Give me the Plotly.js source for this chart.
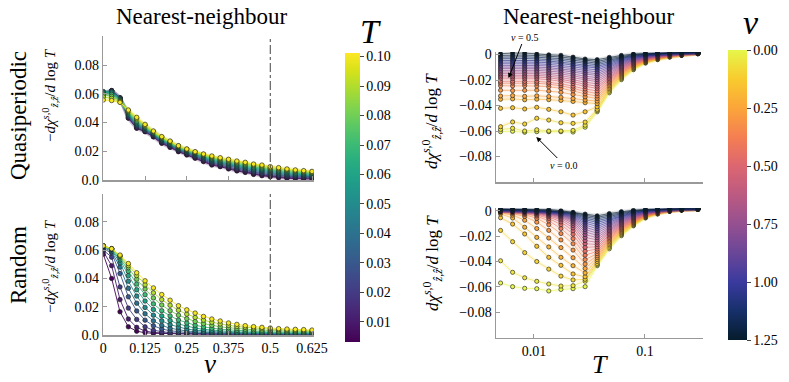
<!DOCTYPE html>
<html><head><meta charset="utf-8">
<script src="https://cdn.plot.ly/plotly-3.0.1.min.js"></script>
<style>body{margin:0;padding:0;background:#fff}#plot{width:789px;height:382px}</style>
</head><body><div id="plot"></div>
<script>
// ---------------- DATA ----------------
const V_LEFT = [0,0.025,0.05,0.075,0.1,0.125,0.15,0.175,0.2,0.225,0.25,0.275,0.3,0.325,0.35,0.375,0.4,0.425,0.45,0.475,0.5,0.525,0.55,0.575,0.6,0.625];
const T_LEFT = [0.004,0.01,0.02,0.03,0.04,0.05,0.06,0.07,0.08,0.09,0.1];
const QP_LEFT = [
[.0590,.0620,.0570,.0430,.0360,.0336,.0300,.0255,.0227,.0197,.0174,.0151,.0128,.0104,.0093,.0077,.0063,.0053,.0039,.0030,.0023,.0016,.0012,.0010,.0008,.0007],
[.0595,.0622,.0572,.0433,.0363,.0338,.0303,.0259,.0231,.0201,.0178,.0155,.0133,.0109,.0098,.0082,.0068,.0058,.0044,.0035,.0028,.0021,.0017,.0015,.0013,.0012],
[.0600,.0622,.0572,.0440,.0370,.0343,.0308,.0265,.0237,.0207,.0184,.0162,.0140,.0117,.0105,.0090,.0076,.0066,.0052,.0043,.0036,.0029,.0025,.0022,.0020,.0018],
[.0605,.0620,.0568,.0447,.0378,.0349,.0313,.0270,.0242,.0212,.0190,.0168,.0147,.0124,.0112,.0098,.0084,.0074,.0060,.0051,.0043,.0036,.0031,.0028,.0025,.0023],
[.0610,.0617,.0565,.0453,.0385,.0354,.0317,.0275,.0247,.0217,.0195,.0174,.0153,.0131,.0119,.0105,.0092,.0082,.0068,.0059,.0051,.0044,.0038,.0034,.0031,.0028],
[.0615,.0613,.0562,.0458,.0392,.0359,.0321,.0280,.0251,.0221,.0200,.0179,.0159,.0137,.0125,.0112,.0099,.0089,.0075,.0067,.0058,.0051,.0045,.0040,.0037,.0034],
[.0612,.0605,.0558,.0464,.0400,.0364,.0325,.0285,.0256,.0225,.0204,.0184,.0164,.0143,.0131,.0118,.0106,.0096,.0083,.0075,.0066,.0059,.0052,.0047,.0043,.0040],
[.0605,.0595,.0554,.0470,.0408,.0370,.0329,.0290,.0260,.0229,.0207,.0188,.0169,.0149,.0137,.0125,.0113,.0103,.0091,.0083,.0073,.0066,.0059,.0053,.0049,.0046],
[.0595,.0582,.0550,.0476,.0418,.0376,.0333,.0294,.0264,.0233,.0211,.0191,.0174,.0156,.0143,.0132,.0120,.0110,.0099,.0091,.0080,.0074,.0066,.0060,.0055,.0051],
[.0578,.0568,.0545,.0481,.0427,.0381,.0337,.0298,.0268,.0236,.0214,.0194,.0178,.0162,.0149,.0138,.0126,.0117,.0105,.0098,.0087,.0080,.0072,.0065,.0060,.0056],
[.0557,.0553,.0540,.0487,.0436,.0387,.0341,.0302,.0271,.0239,.0216,.0197,.0181,.0167,.0155,.0144,.0132,.0123,.0111,.0104,.0093,.0086,.0077,.0070,.0065,.0060]
];
const RND_LEFT = [
[.0570,.0400,.0164,.0058,.0027,.0016,.0012,.0010,.0009,.0008,.0007,.0007,.0006,.0006,.0006,.0005,.0005,.0005,.0005,.0005,.0005,.0004,.0004,.0004,.0004,.0004],
[.0590,.0490,.0250,.0113,.0054,.0028,.0018,.0013,.0011,.0009,.0008,.0008,.0007,.0007,.0006,.0006,.0006,.0006,.0005,.0005,.0005,.0005,.0005,.0005,.0005,.0005],
[.0600,.0550,.0340,.0190,.0110,.0058,.0033,.0022,.0016,.0013,.0011,.0010,.0009,.0008,.0008,.0007,.0007,.0007,.0006,.0006,.0006,.0006,.0006,.0006,.0006,.0006],
[.0610,.0580,.0434,.0270,.0170,.0105,.0065,.0043,.0030,.0023,.0018,.0015,.0013,.0012,.0011,.0010,.0009,.0009,.0008,.0008,.0008,.0008,.0007,.0007,.0007,.0007],
[.0620,.0590,.0480,.0330,.0225,.0150,.0100,.0068,.0048,.0036,.0028,.0023,.0019,.0016,.0014,.0013,.0012,.0011,.0010,.0010,.0009,.0009,.0009,.0009,.0008,.0008],
[.0625,.0600,.0510,.0380,.0275,.0195,.0140,.0100,.0073,.0055,.0042,.0034,.0028,.0024,.0021,.0018,.0016,.0015,.0014,.0013,.0012,.0012,.0011,.0011,.0011,.0010],
[.0630,.0605,.0530,.0420,.0320,.0240,.0180,.0135,.0102,.0078,.0061,.0049,.0040,.0034,.0029,.0025,.0022,.0020,.0018,.0017,.0016,.0015,.0014,.0014,.0013,.0013],
[.0630,.0610,.0545,.0450,.0360,.0285,.0220,.0172,.0135,.0106,.0085,.0069,.0057,.0048,.0041,.0036,.0032,.0029,.0026,.0024,.0022,.0021,.0020,.0019,.0018,.0018],
[.0630,.0610,.0555,.0475,.0395,.0325,.0262,.0212,.0172,.0140,.0115,.0095,.0080,.0068,.0058,.0051,.0045,.0041,.0037,.0034,.0031,.0029,.0028,.0026,.0025,.0024],
[.0630,.0610,.0560,.0490,.0420,.0355,.0298,.0250,.0210,.0175,.0147,.0124,.0105,.0090,.0078,.0068,.0060,.0054,.0049,.0045,.0041,.0038,.0035,.0033,.0031,.0030],
[.0630,.0610,.0565,.0505,.0440,.0383,.0333,.0286,.0246,.0207,.0178,.0155,.0131,.0113,.0099,.0085,.0075,.0066,.0059,.0054,.0049,.0045,.0042,.0040,.0038,.0035]
];
const T_RIGHT = [0.005,0.00642,0.00825,0.0106,0.0136,0.0175,0.0225,0.0289,0.0371,0.0477,0.0613,0.0787,0.1011,0.130,0.167,0.214,0.300];
const V_RIGHT = [0,0.05,0.1,0.15,0.2,0.25,0.3,0.35,0.4,0.45,0.5,0.55,0.6,0.65,0.7,0.75,0.8,0.85,0.9,0.95,1.0,1.05,1.1,1.15,1.2,1.25];
const QP_RIGHT = [
[-.0605,-.0602,-.0610,-.0605,-.0605,-.0605,-.0608,-.0570,-.0449,-.0300,-.0197,-.0119,-.0067,-.0040,-.0020,-.0007,.0006],
[-.0588,-.0578,-.0600,-.0590,-.0600,-.0600,-.0595,-.0555,-.0440,-.0289,-.0189,-.0114,-.0064,-.0038,-.0019,-.0006,.0006],
[-.0566,-.0529,-.0545,-.0500,-.0514,-.0535,-.0540,-.0530,-.0430,-.0278,-.0182,-.0109,-.0061,-.0036,-.0017,-.0005,.0007],
[-.0422,-.0417,-.0427,-.0414,-.0430,-.0449,-.0475,-.0449,-.0410,-.0267,-.0174,-.0104,-.0058,-.0034,-.0016,-.0004,.0007],
[-.0351,-.0348,-.0355,-.0350,-.0354,-.0360,-.0368,-.0378,-.0385,-.0256,-.0167,-.0099,-.0055,-.0032,-.0014,-.0003,.0008],
[-.0325,-.0322,-.0328,-.0324,-.0329,-.0335,-.0345,-.0357,-.0365,-.0245,-.0159,-.0094,-.0052,-.0030,-.0013,-.0003,.0008],
[-.0280,-.0283,-.0281,-.0279,-.0287,-.0296,-.0313,-.0332,-.0345,-.0233,-.0151,-.0090,-.0049,-.0027,-.0012,-.0002,.0008],
[-.0245,-.0246,-.0244,-.0247,-.0253,-.0265,-.0285,-.0309,-.0325,-.0222,-.0144,-.0085,-.0046,-.0025,-.0010,-.0001,.0009],
[-.0225,-.0224,-.0226,-.0225,-.0233,-.0245,-.0265,-.0289,-.0305,-.0211,-.0136,-.0080,-.0043,-.0023,-.0009,.0000,.0009],
[-.0210,-.0209,-.0211,-.0210,-.0218,-.0229,-.0248,-.0270,-.0285,-.0200,-.0129,-.0075,-.0040,-.0021,-.0007,.0001,.0010],
[-.0190,-.0189,-.0191,-.0190,-.0198,-.0209,-.0228,-.0250,-.0265,-.0189,-.0121,-.0070,-.0037,-.0019,-.0006,.0002,.0010],
[-.0176,-.0175,-.0177,-.0176,-.0183,-.0194,-.0212,-.0234,-.0248,-.0178,-.0113,-.0065,-.0034,-.0017,-.0005,.0003,.0010],
[-.0163,-.0162,-.0164,-.0163,-.0170,-.0180,-.0197,-.0217,-.0230,-.0167,-.0106,-.0060,-.0031,-.0015,-.0003,.0004,.0011],
[-.0150,-.0149,-.0151,-.0150,-.0156,-.0166,-.0182,-.0200,-.0213,-.0156,-.0098,-.0055,-.0028,-.0013,-.0002,.0005,.0011],
[-.0137,-.0136,-.0138,-.0137,-.0143,-.0152,-.0167,-.0185,-.0197,-.0145,-.0091,-.0050,-.0025,-.0011,.0000,.0006,.0012],
[-.0124,-.0123,-.0125,-.0124,-.0130,-.0138,-.0153,-.0170,-.0181,-.0134,-.0083,-.0046,-.0022,-.0009,.0001,.0007,.0012],
[-.0110,-.0109,-.0111,-.0111,-.0116,-.0124,-.0138,-.0154,-.0165,-.0122,-.0075,-.0041,-.0019,-.0006,.0002,.0007,.0012],
[-.0098,-.0097,-.0098,-.0099,-.0103,-.0111,-.0124,-.0140,-.0150,-.0111,-.0068,-.0036,-.0016,-.0004,.0004,.0008,.0013],
[-.0085,-.0084,-.0085,-.0086,-.0090,-.0098,-.0110,-.0125,-.0135,-.0100,-.0060,-.0031,-.0013,-.0002,.0005,.0009,.0013],
[-.0072,-.0071,-.0072,-.0073,-.0077,-.0084,-.0096,-.0110,-.0120,-.0089,-.0053,-.0026,-.0010,.0000,.0007,.0010,.0014],
[-.0059,-.0058,-.0058,-.0060,-.0064,-.0070,-.0083,-.0097,-.0106,-.0078,-.0045,-.0021,-.0007,.0002,.0008,.0011,.0014],
[-.0046,-.0045,-.0045,-.0047,-.0051,-.0058,-.0070,-.0084,-.0093,-.0067,-.0037,-.0016,-.0004,.0004,.0009,.0012,.0014],
[-.0033,-.0031,-.0031,-.0034,-.0038,-.0045,-.0057,-.0070,-.0080,-.0056,-.0030,-.0011,-.0001,.0006,.0011,.0013,.0015],
[-.0020,-.0018,-.0018,-.0021,-.0025,-.0032,-.0044,-.0058,-.0068,-.0044,-.0022,-.0006,.0002,.0008,.0012,.0014,.0015],
[-.0007,-.0004,-.0004,-.0008,-.0012,-.0019,-.0031,-.0045,-.0055,-.0033,-.0015,-.0001,.0005,.0010,.0014,.0015,.0016],
[.0006,.0012,.0012,.0004,-.0002,-.0006,-.0020,-.0035,-.0040,-.0022,-.0007,.0004,.0008,.0012,.0015,.0015,.0016]
];
const RND_RIGHT = [
[-.0569,-.0598,-.0611,-.0614,-.0632,-.0620,-.0614,-.0598,-.0433,-.0300,-.0197,-.0119,-.0057,-.0026,-.0005,.0005,.0012],
[-.0394,-.0485,-.0528,-.0556,-.0577,-.0593,-.0590,-.0555,-.0425,-.0289,-.0189,-.0114,-.0054,-.0024,-.0004,.0005,.0012],
[-.0155,-.0244,-.0330,-.0400,-.0460,-.0515,-.0545,-.0540,-.0415,-.0278,-.0182,-.0109,-.0052,-.0023,-.0003,.0006,.0012],
[-.0055,-.0105,-.0183,-.0280,-.0367,-.0430,-.0498,-.0520,-.0400,-.0267,-.0174,-.0104,-.0049,-.0021,-.0003,.0006,.0012],
[-.0026,-.0057,-.0130,-.0210,-.0285,-.0367,-.0433,-.0490,-.0385,-.0256,-.0167,-.0099,-.0046,-.0020,-.0002,.0007,.0012],
[-.0015,-.0035,-.0075,-.0140,-.0215,-.0290,-.0370,-.0455,-.0370,-.0245,-.0159,-.0094,-.0044,-.0018,-.0001,.0007,.0012],
[-.0010,-.0022,-.0045,-.0090,-.0155,-.0230,-.0310,-.0420,-.0355,-.0233,-.0151,-.0090,-.0041,-.0017,.0000,.0007,.0012],
[-.0007,-.0015,-.0030,-.0060,-.0110,-.0180,-.0260,-.0385,-.0338,-.0222,-.0144,-.0085,-.0038,-.0015,.0001,.0008,.0013],
[-.0005,-.0011,-.0022,-.0042,-.0080,-.0140,-.0220,-.0350,-.0320,-.0211,-.0136,-.0080,-.0036,-.0014,.0001,.0008,.0013],
[-.0004,-.0009,-.0017,-.0032,-.0060,-.0110,-.0185,-.0318,-.0302,-.0200,-.0129,-.0075,-.0033,-.0012,.0002,.0009,.0013],
[-.0003,-.0007,-.0013,-.0025,-.0047,-.0088,-.0158,-.0288,-.0284,-.0189,-.0121,-.0070,-.0030,-.0010,.0003,.0009,.0013],
[-.0002,-.0006,-.0011,-.0020,-.0038,-.0072,-.0135,-.0260,-.0266,-.0178,-.0113,-.0065,-.0028,-.0009,.0004,.0009,.0013],
[-.0002,-.0005,-.0009,-.0016,-.0031,-.0060,-.0116,-.0235,-.0248,-.0167,-.0106,-.0060,-.0025,-.0007,.0005,.0010,.0013],
[-.0001,-.0004,-.0007,-.0013,-.0026,-.0050,-.0100,-.0210,-.0230,-.0156,-.0098,-.0055,-.0022,-.0006,.0005,.0010,.0013],
[-.0001,-.0003,-.0006,-.0011,-.0022,-.0043,-.0087,-.0188,-.0212,-.0145,-.0091,-.0050,-.0020,-.0004,.0006,.0011,.0014],
[.0000,-.0003,-.0005,-.0009,-.0019,-.0037,-.0076,-.0167,-.0194,-.0134,-.0083,-.0046,-.0017,-.0003,.0007,.0011,.0014],
[.0000,-.0002,-.0004,-.0008,-.0016,-.0032,-.0067,-.0148,-.0176,-.0122,-.0075,-.0041,-.0014,-.0001,.0008,.0011,.0014],
[.0001,-.0002,-.0003,-.0007,-.0014,-.0028,-.0059,-.0130,-.0158,-.0111,-.0068,-.0036,-.0012,.0000,.0009,.0012,.0014],
[.0002,-.0001,-.0003,-.0006,-.0012,-.0024,-.0052,-.0113,-.0141,-.0100,-.0060,-.0031,-.0009,.0002,.0009,.0012,.0014],
[.0003,.0000,-.0002,-.0005,-.0010,-.0021,-.0045,-.0097,-.0124,-.0089,-.0053,-.0026,-.0006,.0004,.0010,.0013,.0014],
[.0004,.0002,.0000,-.0004,-.0008,-.0018,-.0038,-.0083,-.0108,-.0078,-.0045,-.0021,-.0004,.0005,.0011,.0013,.0015],
[.0005,.0004,.0002,-.0002,-.0006,-.0015,-.0032,-.0070,-.0092,-.0067,-.0037,-.0016,-.0001,.0007,.0012,.0013,.0015],
[.0007,.0006,.0004,.0000,-.0004,-.0012,-.0026,-.0058,-.0078,-.0056,-.0030,-.0011,.0002,.0008,.0013,.0014,.0015],
[.0009,.0008,.0006,.0003,-.0002,-.0009,-.0020,-.0047,-.0064,-.0044,-.0022,-.0006,.0004,.0010,.0013,.0014,.0015],
[.0011,.0010,.0009,.0006,.0001,-.0005,-.0015,-.0036,-.0052,-.0033,-.0015,-.0001,.0007,.0011,.0014,.0015,.0015],
[.0013,.0013,.0013,.0013,.0010,.0000,-.0013,-.0026,-.0040,-.0022,-.0007,.0004,.0010,.0013,.0015,.0015,.0015]
];
const LEFT_XTICKS = [0,0.125,0.25,0.375,0.5,0.625];
const LEFT_XTEXT = ['0','0.125','0.25','0.375','0.5','0.625'];
const LEFT_YTICKS = [0,0.02,0.04,0.06,0.08];
const LEFT_YTEXT = ['0.0','0.02','0.04','0.06','0.08'];
const RIGHT_XTICKS = [0.01,0.1];
const RIGHT_XTEXT = ['0.01','0.1'];
const RIGHT_YTICKS = [0,-0.02,-0.04,-0.06,-0.08];
const RIGHT_YTEXT = ['0','\u22120.02','\u22120.04','\u22120.06','\u22120.08'];
const CB_T_TICKS = [0.01,0.02,0.03,0.04,0.05,0.06,0.07,0.08,0.09,0.10];
const CB_T_TEXT = ['0.01','0.02','0.03','0.04','0.05','0.06','0.07','0.08','0.09','0.10'];
const CB_V_TICKS = [0,0.25,0.5,0.75,1.0,1.25];
const CB_V_TEXT = ['0.00','0.25','0.50','0.75','1.00','1.25'];
const V_MARK = 0.5;

// ---------------- STYLE ----------------
const FONT = 'Liberation Serif, DejaVu Serif, serif';
const VIRIDIS = [[0,'#440154'],[0.0627,'#48186a'],[0.1255,'#472d7b'],[0.1882,'#424086'],[0.251,'#3b528b'],[0.3137,'#33638d'],[0.3765,'#2c728e'],[0.4392,'#26828e'],[0.502,'#21918c'],[0.5647,'#1fa088'],[0.6275,'#28ae80'],[0.6902,'#3fbc73'],[0.7529,'#5ec962'],[0.8157,'#84d44b'],[0.8784,'#addc30'],[0.9412,'#d8e219'],[1,'#fde725']];
const THERMAL = [[0,'#061c2c'],[0.1,'#16306a'],[0.2,'#3a3a9e'],[0.3,'#6a4698'],[0.4,'#955090'],[0.5,'#bb5a82'],[0.6,'#dc6670'],[0.7,'#f47f52'],[0.8,'#fba53a'],[0.9,'#f8cb2e'],[1,'#e6f64a']];
const TMIN = 0.0032, TMAX = 0.1012, VMAX = 1.25;
function hex2rgb(h){return [parseInt(h.slice(1,3),16),parseInt(h.slice(3,5),16),parseInt(h.slice(5,7),16)];}
function sample(scale,t){
  t=Math.max(0,Math.min(1,t));
  for(let k=1;k<scale.length;k++){
    if(t<=scale[k][0]){
      const a=scale[k-1],b=scale[k];const f=(t-a[0])/(b[0]-a[0]);
      const ca=hex2rgb(a[1]),cb=hex2rgb(b[1]);
      return ca.map((c,j)=>Math.round(c+(cb[j]-c)*f));
    }
  }
  return hex2rgb(scale[scale.length-1][1]);
}
function rgba(c,a){return 'rgba('+c[0]+','+c[1]+','+c[2]+','+a+')';}

const traces=[];
function addCurve(xa,ya,xs,ys,c,band,bandOp,lineOp,msize){
  if(band>0){
    traces.push({x:xs,y:ys,xaxis:xa,yaxis:ya,mode:'lines',line:{color:rgba(c,bandOp),width:band},hoverinfo:'skip',showlegend:false});
  }
  traces.push({x:xs,y:ys,xaxis:xa,yaxis:ya,mode:'lines+markers',
    line:{color:rgba(c,lineOp),width:1},
    marker:{size:msize,color:rgba(c,1),line:{color:'rgba(30,30,30,0.9)',width:0.7}},
    showlegend:false,hoverinfo:'skip'});
}
T_LEFT.forEach((T,k)=>{
  const c=sample(VIRIDIS,(T-TMIN)/(TMAX-TMIN));
  addCurve('x','y',V_LEFT,QP_LEFT[k],c,4,0.15,0.9,4.5);
});
T_LEFT.forEach((T,k)=>{
  const c=sample(VIRIDIS,(T-TMIN)/(TMAX-TMIN));
  addCurve('x2','y2',V_LEFT,RND_LEFT[k],c,0,0,0.9,4.5);
});
V_RIGHT.forEach((v,k)=>{
  const c=sample(THERMAL,1-v/VMAX);
  addCurve('x3','y3',T_RIGHT,QP_RIGHT[k],c,4,0.11,0.6,4.2);
});
V_RIGHT.forEach((v,k)=>{
  const c=sample(THERMAL,1-v/VMAX);
  addCurve('x4','y4',T_RIGHT,RND_RIGHT[k],c,4,0.11,0.6,4.2);
});
const tickF={family:FONT,size:14,color:'#000'};
traces.push({x:[-1],y:[-1],xaxis:'x',yaxis:'y',mode:'markers',showlegend:false,hoverinfo:'skip',
  marker:{size:1,color:[0.05],cmin:TMIN,cmax:TMAX,colorscale:VIRIDIS,showscale:true,
   colorbar:{x:345/789,xanchor:'left',y:1-53/382,yanchor:'top',len:289/382,lenmode:'fraction',thickness:15,
     xpad:0,ypad:0,outlinewidth:0,tickvals:CB_T_TICKS,ticktext:CB_T_TEXT,ticks:'outside',ticklen:4,tickcolor:'#444',tickfont:tickF}}});
traces.push({x:[-1],y:[-1],xaxis:'x',yaxis:'y',mode:'markers',showlegend:false,hoverinfo:'skip',
  marker:{size:1,color:[-0.5],cmin:-VMAX,cmax:0,colorscale:THERMAL,showscale:true,
   colorbar:{x:728/789,xanchor:'left',y:1-50/382,yanchor:'top',len:290/382,lenmode:'fraction',thickness:19,
     xpad:0,ypad:0,outlinewidth:0,tickvals:CB_V_TICKS.map(v=>-v),ticktext:CB_V_TEXT,ticks:'outside',ticklen:4,tickcolor:'#444',tickfont:tickF}}});

const axBase={showgrid:false,zeroline:false,showline:true,linecolor:'#999',linewidth:1.5,ticks:'inside',ticklen:4,tickcolor:'#999',tickfont:tickF};
const layout={
  width:789,height:382,margin:{l:0,r:0,t:0,b:0},paper_bgcolor:'#fff',plot_bgcolor:'#fff',showlegend:false,
  font:{family:FONT,color:'#000'},
  xaxis:Object.assign({},axBase,{domain:[103.3/789,313.7/789],range:[0,0.63],tickvals:LEFT_XTICKS,showticklabels:false,anchor:'y'}),
  yaxis:Object.assign({},axBase,{domain:[1-180/382,1-36.3/382],range:[0,0.1],tickvals:LEFT_YTICKS,ticktext:LEFT_YTEXT,anchor:'x'}),
  xaxis2:Object.assign({},axBase,{domain:[103.3/789,313.7/789],range:[0,0.63],tickvals:LEFT_XTICKS,ticktext:LEFT_XTEXT,anchor:'y2'}),
  yaxis2:Object.assign({},axBase,{domain:[1-335/382,1-193.5/382],range:[0,0.1],tickvals:LEFT_YTICKS,ticktext:LEFT_YTEXT,anchor:'x2'}),
  xaxis3:Object.assign({},axBase,{type:'log',domain:[496/789,703/789],range:[-2.342,-0.477],tickvals:RIGHT_XTICKS,showticklabels:false,anchor:'y3'}),
  yaxis3:Object.assign({},axBase,{domain:[1-182/382,1-52/382],range:[-0.1,0.002],tickvals:RIGHT_YTICKS,ticktext:RIGHT_YTEXT,anchor:'x3'}),
  xaxis4:Object.assign({},axBase,{type:'log',domain:[496/789,703/789],range:[-2.342,-0.477],tickvals:RIGHT_XTICKS,ticktext:RIGHT_XTEXT,anchor:'y4'}),
  yaxis4:Object.assign({},axBase,{domain:[1-337.7/382,1-208.2/382],range:[-0.1,0.002],tickvals:RIGHT_YTICKS,ticktext:RIGHT_YTEXT,anchor:'x4'}),
  shapes:[
    {type:'line',xref:'x',yref:'y domain',x0:V_MARK,x1:V_MARK,y0:0,y1:1,line:{color:'#444',width:1,dash:'dashdot'}},
    {type:'line',xref:'x2',yref:'y2 domain',x0:V_MARK,x1:V_MARK,y0:0,y1:1,line:{color:'#444',width:1,dash:'dashdot'}}
  ],
  annotations:[]
};
const ylabL='\u2212<i>d\u03c7</i><sup><i>s</i>,0</sup><sub><i>\u1e91,\u1e91</i></sub>/<i>d</i> log <i>T</i>';
const ylabR='<i>d\u03c7</i><sup><i>s</i>,0</sup><sub><i>\u1e91,\u1e91</i></sub>/<i>d</i> log <i>T</i>';
function ann(text,x,y,size,angle){
  layout.annotations.push({text:text,xref:'paper',yref:'paper',x:x/789,y:1-y/382,xanchor:'center',yanchor:'middle',showarrow:false,textangle:angle||0,font:{family:FONT,size:size,color:'#000'}});
}
ann('Nearest-neighbour',201,16,23);
ann('Nearest-neighbour',588,16,23);
ann('Quasiperiodic',18,116,23,-90);
ann('Random',18,265,23,-90);
ann(ylabL,50,95,15,-90);
ann(ylabL,50,266,15,-90);
ann(ylabR,432,121,17,-90);
ann(ylabR,432,263,17,-90);
ann('<i>v</i>',210,364,27);
ann('<i>T</i>',600,364,26);
ann('<i>T</i>',370,31,34);
ann('<i>v</i>',751,22,34);
layout.annotations.push({xref:'x3',yref:'y3',x:Math.log10(0.0059),y:-0.0184,ax:16,ay:-41,text:'<i>v</i> = 0.5',showarrow:true,arrowhead:2,arrowsize:1,arrowwidth:1,arrowcolor:'#000',font:{family:FONT,size:10,color:'#000'}});
layout.annotations.push({xref:'x3',yref:'y3',x:Math.log10(0.0105),y:-0.0647,ax:28,ay:28,text:'<i>v</i> = 0.0',showarrow:true,arrowhead:2,arrowsize:1,arrowwidth:1,arrowcolor:'#000',font:{family:FONT,size:10,color:'#000'}});

Plotly.newPlot('plot',traces,layout,{staticPlot:true});
</script></body></html>
